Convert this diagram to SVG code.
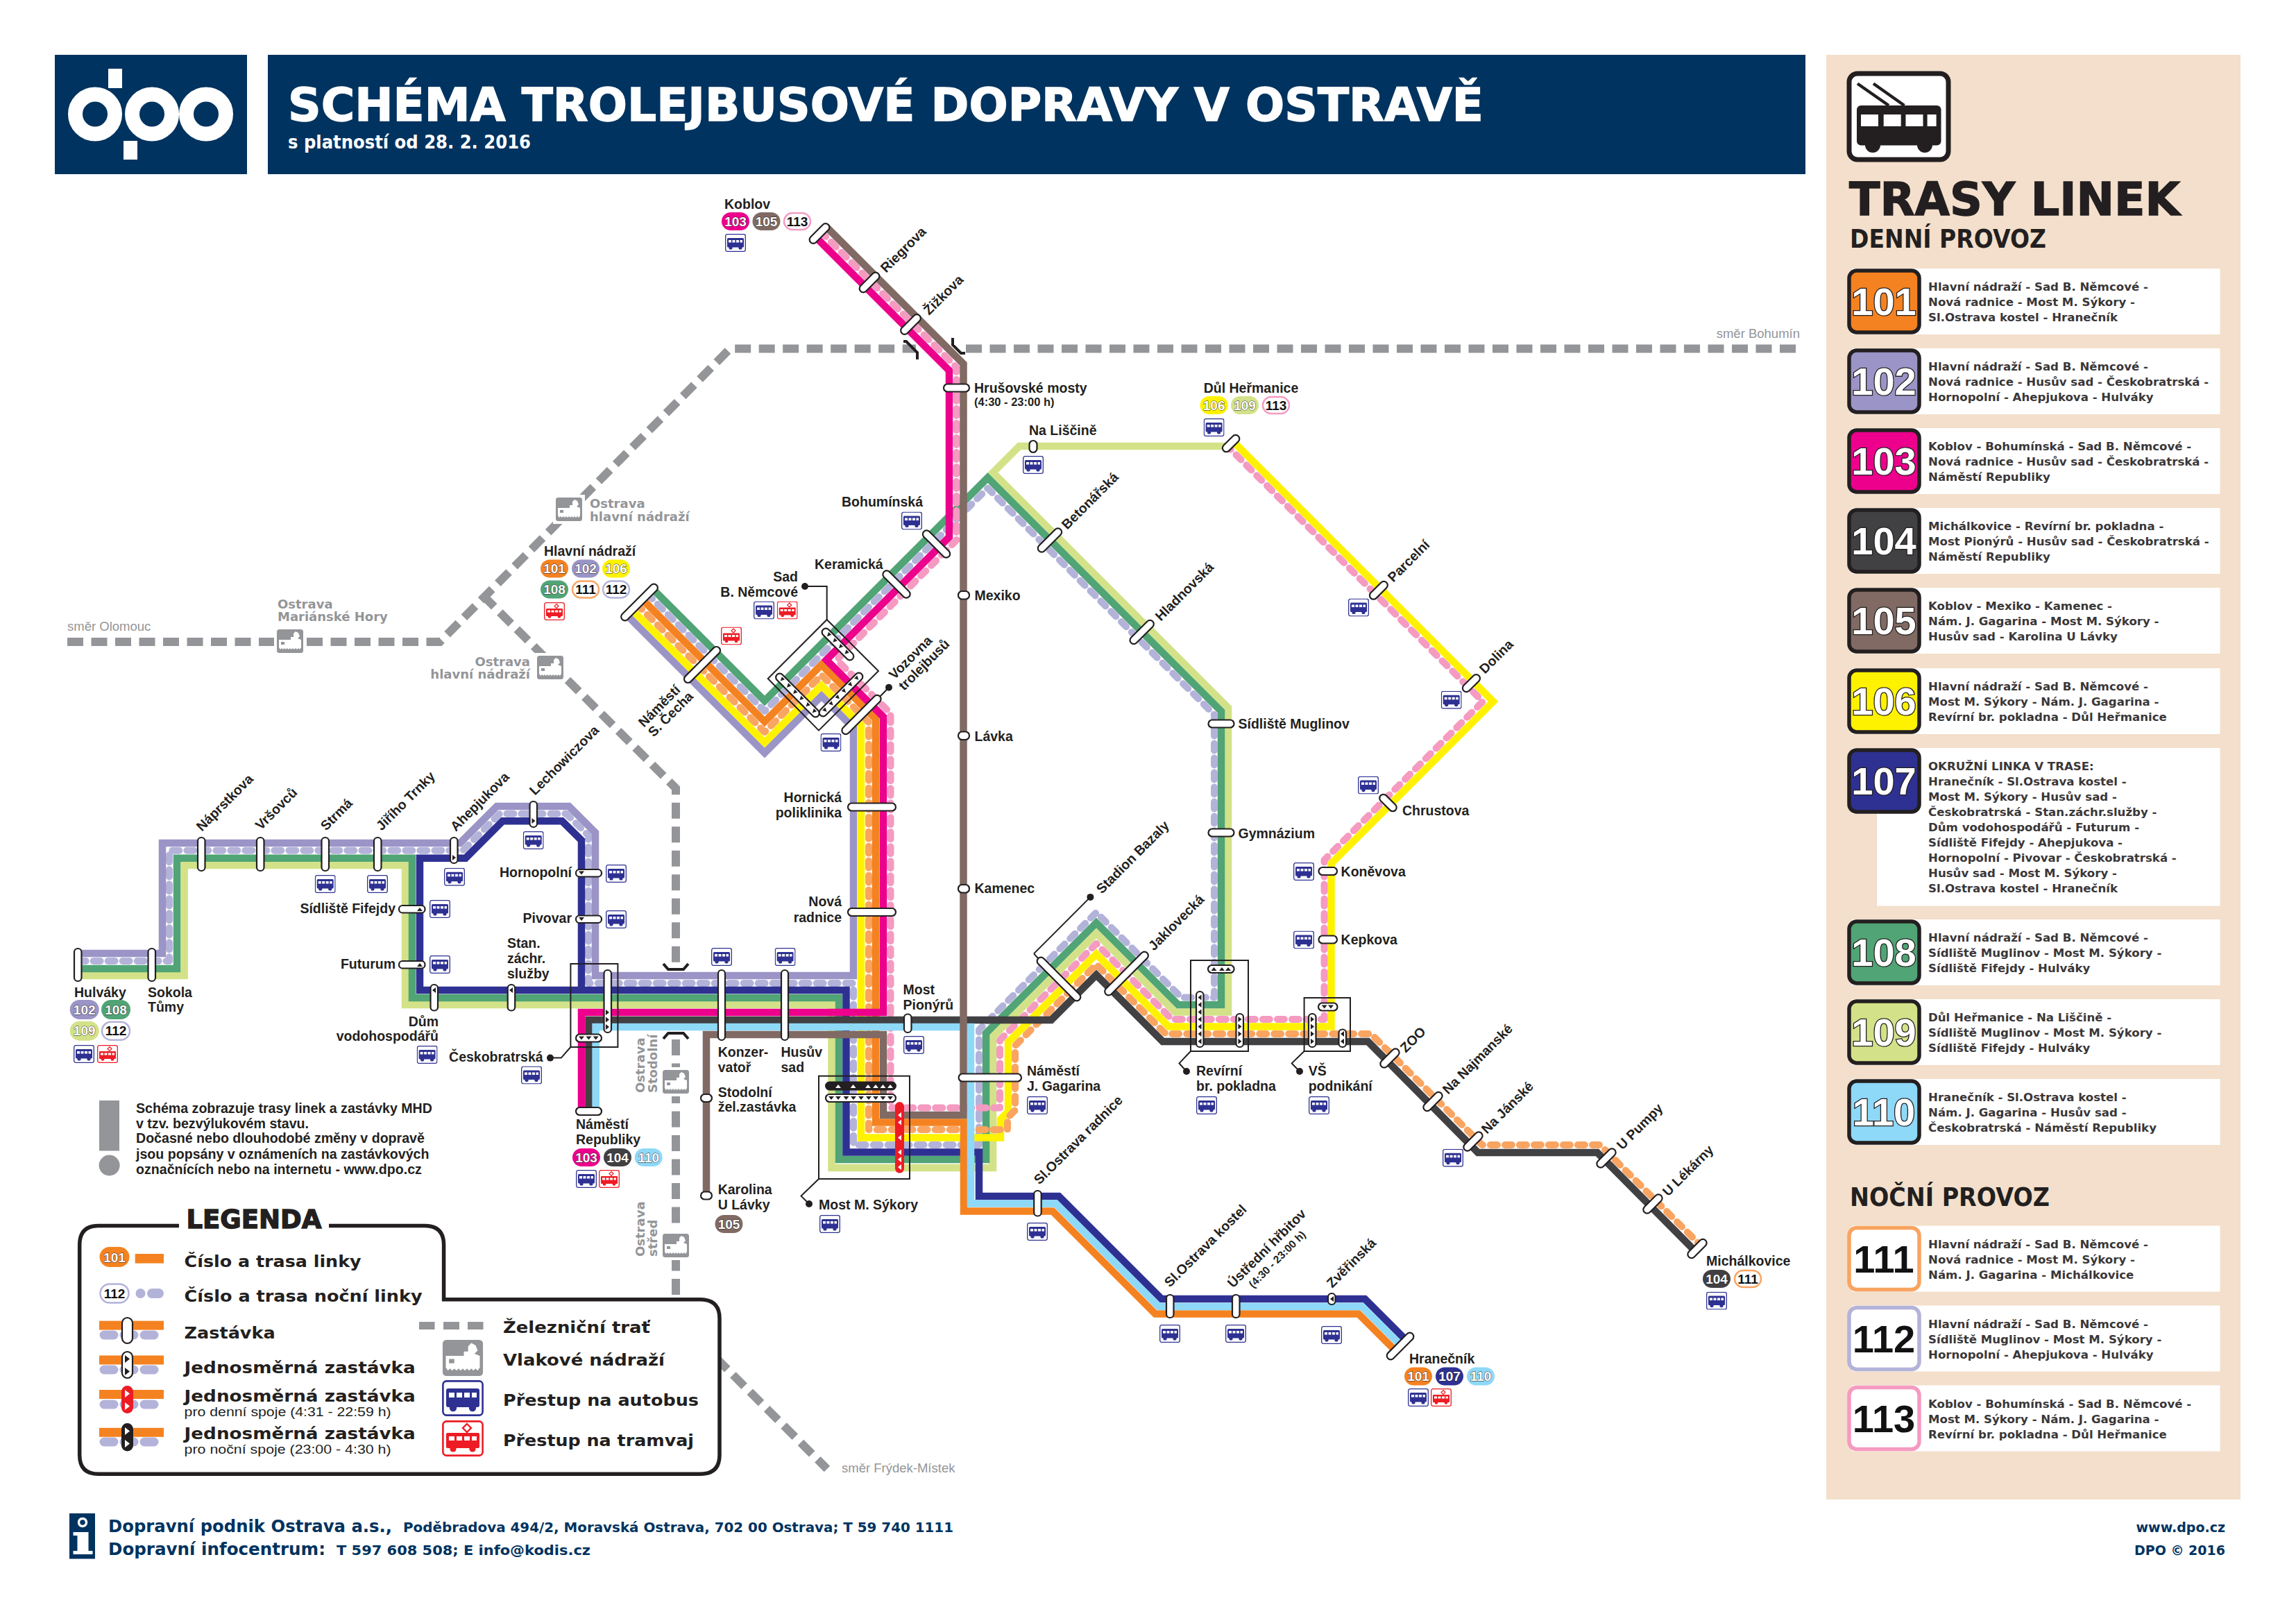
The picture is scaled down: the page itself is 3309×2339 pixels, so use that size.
<svg xmlns="http://www.w3.org/2000/svg" xmlns:xlink="http://www.w3.org/1999/xlink" width="3309" height="2339" viewBox="0 0 3309 2339">
<style>
text{font-family:"Liberation Sans",Arial,sans-serif;font-weight:700;fill:#231f20}
.l{font-size:19.5px}
.e{text-anchor:end}
.m{text-anchor:middle}
.w{font-family:"DejaVu Sans",sans-serif}
.hv{stroke-width:1.4px}
.r{fill:none;stroke-width:10.5;stroke-linejoin:miter}
.n{fill:none;stroke-width:10;stroke-linecap:round;stroke-linejoin:round;stroke-dasharray:10 11}
.rail{fill:none;stroke:#939598;stroke-width:12;stroke-dasharray:23 11.5}
.c{fill:#fff;stroke:#231f20;stroke-width:2.2}
.cb{fill:#231f20;stroke:#231f20;stroke-width:2}
.cr{fill:#ed1c24;stroke:#ed1c24;stroke-width:2}
.tk{fill:#231f20}
.tw{fill:#fff}
.box{fill:none;stroke:#231f20;stroke-width:2}
.dot{fill:#231f20}
.br{fill:none;stroke:#231f20;stroke-width:4}
.pt{font-size:19px;text-anchor:middle;fill:#fff;stroke:#231f20;stroke-width:.9px;paint-order:stroke}
.ptn{font-size:19px;text-anchor:middle;fill:#111}
.g{fill:#939598}
.gt{font-family:"DejaVu Sans",sans-serif;font-size:18px;fill:#939598}
.gs{font-size:18.5px;font-weight:400;fill:#939598}
.tt{font-family:"DejaVu Sans",sans-serif;font-size:16.6px;fill:#3a3738}
.num{font-size:56px;text-anchor:middle;fill:#fff;stroke:#231f20;stroke-width:2.6px;paint-order:stroke}
.numn{font-size:56px;text-anchor:middle;fill:#111}
.nb{stroke:#231f20;stroke-width:5.5}
.lg{font-family:"DejaVu Sans",sans-serif;font-size:23px}
.ls{font-size:17.5px;font-weight:400}
.no{font-size:19.6px}
.ft{font-family:"DejaVu Sans",sans-serif;fill:#00335f}
</style>
<defs>
<symbol id="bus" viewBox="0 0 30 26"><rect x=".7" y=".7" width="28.6" height="24.6" rx="2.5" fill="#fff" stroke="#2e3192" stroke-width="1.3"/><rect x="3" y="6" width="24" height="13.5" rx="1.5" fill="#2e3192"/><circle cx="8" cy="20" r="2.6" fill="#2e3192"/><circle cx="22" cy="20" r="2.6" fill="#2e3192"/><path fill="#fff" d="M5 9h4v3.5H5zM10.5 9h4v3.5h-4zM16 9h4v3.5h-4zM21.5 9h3.5v3.5h-3.5z"/></symbol>
<symbol id="tram" viewBox="0 0 30 26"><rect x=".7" y=".7" width="28.6" height="24.6" rx="2.5" fill="#fff" stroke="#ed1c24" stroke-width="1.3"/><rect x="3" y="9" width="24" height="11" rx="1" fill="#ed1c24"/><circle cx="8" cy="20.5" r="2.3" fill="#ed1c24"/><circle cx="22" cy="20.5" r="2.3" fill="#ed1c24"/><path fill="#fff" d="M5 11.5h4v3H5zM10.5 11.5h4v3h-4zM16 11.5h4v3h-4zM21.5 11.5h3.5v3h-3.5z"/><path fill="none" stroke="#ed1c24" stroke-width="1.2" d="M18 2.5l3 3-3 3-3-3z"/></symbol>
<symbol id="train" viewBox="0 0 38 34"><rect width="38" height="34" rx="3.5" fill="#939598"/><path fill="#fff" d="M3 15h17v-4h4v-5l3-3 4 2 2 5-3 3 5 2v11l-2 3-2-2-2 2-2-2-2 2-2-2-2 2-2-2-2 2-2-2-2 2-2-2-2 2-2-2-2 2-2-3z"/><rect x="6" y="18" width="5" height="4" fill="#939598"/></symbol>
</defs>

<g id="header">
<rect x="79" y="79" width="277" height="172" fill="#00335f"/>
<rect x="386" y="79" width="2216" height="172" fill="#00335f"/>
<g fill="none" stroke="#fff" stroke-width="21"><circle cx="137" cy="164.5" r="28.5"/><circle cx="219" cy="164.5" r="28.5"/><circle cx="297" cy="164.5" r="28.5"/></g>
<rect x="156" y="99" width="20" height="28" fill="#fff"/><rect x="178" y="203" width="20" height="27" fill="#fff"/>
<text class="w hv" x="415" y="173.5" font-size="66" textLength="1723" lengthAdjust="spacingAndGlyphs" style="fill:#fff;stroke:#fff">SCHÉMA TROLEJBUSOVÉ DOPRAVY V OSTRAVĚ</text>
<text class="w" x="415" y="214" font-size="26" textLength="350" lengthAdjust="spacingAndGlyphs" style="fill:#fff">s platností od 28. 2. 2016</text>
</g>

<g id="railway">
<path class="rail" d="M97 925H634L1052 502.5H1320"/>
<path class="rail" d="M1392 502.5H2598"/>
<path class="rail" d="M696 858L974 1136V1392"/>
<path class="rail" d="M974 1498V1899L1192 2117"/>
<path class="br" d="M1302 492h4l16 16v10M1373 487v10l12 12h6M956 1389l7 8h22l7-8M956 1497l7-8h22l7 8"/>
<rect x="395" y="903" width="46" height="42" fill="#fff"/><use href="#train" x="399" y="907" width="38" height="34"/>
<rect x="797" y="713" width="46" height="42" fill="#fff"/><use href="#train" x="801" y="717" width="38" height="34"/>
<rect x="770" y="941" width="46" height="42" fill="#fff"/><use href="#train" x="774" y="945" width="38" height="34"/>
<rect x="950" y="1538" width="46" height="42" fill="#fff"/><use href="#train" x="955" y="1542" width="38" height="34"/>
<rect x="950" y="1774" width="46" height="42" fill="#fff"/><use href="#train" x="955" y="1778" width="38" height="34"/>
<text class="gs" x="97" y="909">směr Olomouc</text>
<text class="gs e" x="2594" y="487">směr Bohumín</text>
<text class="gs" x="1213" y="2122">směr Frýdek-Místek</text>
<text class="gt" x="400" y="877">Ostrava</text><text class="gt" x="400" y="895">Mariánské Hory</text>
<text class="gt" x="850" y="732">Ostrava</text><text class="gt" x="850" y="750.5">hlavní nádraží</text>
<text class="gt e" x="764" y="960">Ostrava</text><text class="gt e" x="764" y="978">hlavní nádraží</text>
<text class="gt" transform="translate(929,1575) rotate(-90)">Ostrava</text><text class="gt" transform="translate(947,1575) rotate(-90)">Stodolní</text>
<text class="gt" transform="translate(929,1811) rotate(-90)">Ostrava</text><text class="gt" transform="translate(947,1811) rotate(-90)">střed</text>
</g>

<g id="connectors">
<path id="line-109" class="r" stroke="#d3e288" d="M1767 643H1469L1431 681L1770 1020V1458.6H1693.6L1580 1345L1431 1494V1683H1198.5V1448H584V1247H265.6V1406H112"/>
<path id="line-108" class="r" stroke="#50a475" d="M940.75 848.75L1102 1010L1423.5 688.5L1760 1025V1448H1698L1580 1330L1421 1489V1671H1209V1438H594V1236.7H255V1396H112"/>
<path id="line-112" class="n" stroke="#b3b3da" d="M933 856L1102 1025L1423.5 703.5L1750 1030V1437.5H1702.5L1580 1315L1411 1484V1650H1230V1417H848V1204L816 1172.7H720.3L667.2 1225.7H244V1385H112"/>
<path id="line-102" class="r" stroke="#9b94c6" d="M903 886L1102 1085L1184 1003L1230 1049V1406H858V1200L820 1162H716L663 1215H234V1374H112"/>
<path id="line-107" class="r" stroke="#2e3192" d="M2026.5 1931.5L1967 1872H1674L1526 1724H1411V1660.5H1219.5V1427H605V1236.7H671L724.4 1183.3H810L838 1211V1427"/>
<path id="line-106" class="r" stroke="#fff200" d="M910.7 878.7L1102 1070L1184 988L1241 1045V1639.5H1442V1613L1453 1602V1502L1580 1375L1684.6 1479.6H1918.5V1244.5L2152 1011L1779 638"/>
<path id="line-111" class="n" stroke="#f9a461" d="M918 871L1102 1055L1184 973L1252 1041V1628H1452V1611L1463 1600V1507L1580 1390L1680 1490H1976L2136 1650H2306L2450 1794"/>
<path id="line-101" class="r" stroke="#f58220" d="M925.7 863.7L1102 1040L1184 958L1262 1036V1617.6H1389V1745.5H1517L1665 1893.5H1958L2011.5 1947"/>
<path id="line-113" class="n" stroke="#f59ac1" d="M1183 334L1378.5 529.5V778.5L1206 951L1283.5 1028V1596.6H1441V1499L1580 1360L1689 1469H1908.5V1239.5L2137 1011L1773 647"/>
<path id="line-103" class="r" stroke="#ec008c" d="M1175.5 341.5L1368 534V774L1191 951L1273 1033V1459H838V1600"/>
<path id="line-104" class="r" stroke="#414042" d="M2442 1802L2302 1661H2130L1971.5 1501H1675.7L1580 1405L1515 1470H848.5V1600"/>
<path id="line-110" class="r" stroke="#8ed8f8" d="M2019 1939L1963 1883H1670L1521.5 1734.5H1399V1480H858.7V1600"/>
<path id="line-105" class="r" stroke="#806a63" d="M1190.5 326.5L1388.5 524.5V1607H1273V1491H1018V1723"/>
<path class="box" d="M1191.7 893V845H1160M1268 1004L1281 990.7M822.4 1509L808.7 1524.6H793M1180 1699L1154.6 1723.6L1166 1735M1490 1374.4L1571.4 1292.9M1490 1374.4L1497 1382M1716 1515L1699.5 1532.4L1710 1544M1879.6 1515L1861.7 1532.4L1873 1544"/>
</g>

<g id="st-koblov">
<rect class="c" x="1163" y="331" width="36" height="11" rx="5.5" transform="rotate(-45 1181 336.5)"/>
<text class="l" x="1044" y="301">Koblov</text>
<g transform="translate(1060,319)"><rect x="-20" y="-13" width="40" height="26" rx="13" fill="#ec008c"/><text class="pt" y="6.5">103</text></g>
<g transform="translate(1104.5,319)"><rect x="-20" y="-13" width="40" height="26" rx="13" fill="#806a63"/><text class="pt" y="6.5">105</text></g>
<g transform="translate(1149,319)"><rect x="-19" y="-12" width="38" height="24" rx="12" fill="#fff" stroke="#f59ac1" stroke-width="2.5"/><text class="ptn" y="6.5">113</text></g>
<use href="#bus" x="1045" y="337" width="30" height="26"/>
</g>
<g id="st-riegrova"><rect class="c" x="1235" y="401.5" width="36" height="11" rx="5.5" transform="rotate(-45 1253 407)"/><text class="l" transform="translate(1277,394) rotate(-45)">Riegrova</text></g>
<g id="st-zizkova"><rect class="c" x="1294.5" y="462" width="36" height="11" rx="5.5" transform="rotate(-45 1312.5 467.5)"/><text class="l" transform="translate(1339,455) rotate(-45)">Žižkova</text></g>
<g id="st-hrusovske"><rect class="c" x="1360" y="553.5" width="37" height="11" rx="5.5"/><text class="l" x="1404" y="566">Hrušovské mosty</text><text x="1404" y="585" font-size="16.5">(4:30 - 23:00 h)</text></g>
<g id="st-bohuminska"><rect class="c" x="1324" y="778.5" width="51" height="11" rx="5.5" transform="rotate(45 1349.5 784)"/><text class="l" x="1213" y="730">Bohumínská</text><use href="#bus" x="1299" y="737.5" width="30" height="26"/></g>
<g id="st-keramicka"><rect class="c" x="1266.5" y="836.5" width="51" height="11" rx="5.5" transform="rotate(45 1292 842)"/><text class="l" x="1174" y="820">Keramická</text></g>
<g id="st-mexiko"><rect class="c" x="1381" y="852" width="16" height="11.5" rx="5.5"/><text class="l" x="1404.5" y="865">Mexiko</text></g>
<g id="st-lavka"><rect class="c" x="1381" y="1054.5" width="16" height="11.5" rx="5.5"/><text class="l" x="1404.5" y="1068">Lávka</text></g>
<g id="st-kamenec"><rect class="c" x="1381" y="1275" width="16" height="11.5" rx="5.5"/><text class="l" x="1404.5" y="1287">Kamenec</text></g>

<g id="st-na-liscine"><rect class="c" x="1483.5" y="635" width="11" height="17" rx="5.5"/><text class="l" x="1483" y="626.5">Na Liščině</text><use href="#bus" x="1474" y="657" width="30" height="26"/></g>
<g id="st-dul-hermanice"><rect class="c" x="1759" y="633.3" width="30" height="11" rx="5.5" transform="rotate(-45 1774.3 638.8)"/><text class="l" x="1734.7" y="566">Důl Heřmanice</text>
<g transform="translate(1749.6,584)"><rect x="-20" y="-13" width="40" height="26" rx="13" fill="#fff200"/><text class="pt" y="6.5">106</text></g>
<g transform="translate(1794,584)"><rect x="-20" y="-13" width="40" height="26" rx="13" fill="#d3e288"/><text class="pt" y="6.5">109</text></g>
<g transform="translate(1839,584)"><rect x="-19" y="-12" width="38" height="24" rx="12" fill="#fff" stroke="#f59ac1" stroke-width="2.5"/><text class="ptn" y="6.5">113</text></g>
<use href="#bus" x="1734.6" y="603" width="30" height="26"/></g>
<g id="st-betonarska"><rect class="c" x="1491" y="773" width="44" height="11" rx="5.5" transform="rotate(-45 1513 778.5)"/><text class="l" transform="translate(1538,764) rotate(-45)">Betonářská</text></g>
<g id="st-hladnovska"><rect class="c" x="1623.7" y="905.5" width="44" height="11" rx="5.5" transform="rotate(-45 1645.7 911)"/><text class="l" transform="translate(1673,896) rotate(-45)">Hladnovská</text></g>
<g id="st-muglinov"><rect class="c" x="1741.5" y="1037.5" width="37" height="11" rx="5.5"/><text class="l" x="1784.5" y="1050">Sídliště Muglinov</text></g>
<g id="st-gymnazium"><rect class="c" x="1741.5" y="1194.5" width="37" height="11" rx="5.5"/><text class="l" x="1784.5" y="1207.5">Gymnázium</text></g>
<g id="st-parcelni"><rect class="c" x="1971" y="845.5" width="32" height="11" rx="5.5" transform="rotate(-45 1986.7 851)"/><text class="l" transform="translate(2008,840) rotate(-45)">Parcelní</text><use href="#bus" x="1943" y="862.5" width="30" height="26"/></g>
<g id="st-dolina"><rect class="c" x="2105" y="979.2" width="31" height="11" rx="5.5" transform="rotate(-45 2120.4 984.7)"/><text class="l" transform="translate(2140,972) rotate(-45)">Dolina</text><use href="#bus" x="2076.7" y="995.7" width="30" height="26"/></g>
<g id="st-chrustova"><rect class="c" x="1985.5" y="1151.5" width="30" height="11" rx="5.5" transform="rotate(45 2000.5 1157)"/><text class="l" x="2021" y="1174.5">Chrustova</text><use href="#bus" x="1957" y="1118.6" width="30" height="26"/></g>
<g id="st-konevova"><rect class="c" x="1900.5" y="1250" width="26.5" height="11" rx="5.5"/><text class="l" x="1932.6" y="1262.6">Koněvova</text><use href="#bus" x="1864" y="1243" width="30" height="26"/></g>
<g id="st-kepkova"><rect class="c" x="1900.5" y="1348.5" width="26.5" height="11" rx="5.5"/><text class="l" x="1932.6" y="1361">Kepkova</text><use href="#bus" x="1864" y="1341.5" width="30" height="26"/></g>

<g id="st-hlavni-nadrazi"><rect class="c" x="886.5" y="862.5" width="70" height="11" rx="5.5" transform="rotate(-45 921.5 868)"/><text class="l" x="784" y="801">Hlavní nádraží</text>
<g transform="translate(799,819.5)"><rect x="-20" y="-13" width="40" height="26" rx="13" fill="#f58220"/><text class="pt" y="6.5">101</text></g>
<g transform="translate(844,819.5)"><rect x="-20" y="-13" width="40" height="26" rx="13" fill="#9b94c6"/><text class="pt" y="6.5">102</text></g>
<g transform="translate(888,819.5)"><rect x="-20" y="-13" width="40" height="26" rx="13" fill="#fff200"/><text class="pt" y="6.5">106</text></g>
<g transform="translate(799,849.5)"><rect x="-20" y="-13" width="40" height="26" rx="13" fill="#50a475"/><text class="pt" y="6.5">108</text></g>
<g transform="translate(844,849.5)"><rect x="-19" y="-12" width="38" height="24" rx="12" fill="#fff" stroke="#f9a461" stroke-width="2.5"/><text class="ptn" y="6.5">111</text></g>
<g transform="translate(888,849.5)"><rect x="-19" y="-12" width="38" height="24" rx="12" fill="#fff" stroke="#b3b3da" stroke-width="2.5"/><text class="ptn" y="6.5">112</text></g>
<use href="#tram" x="784" y="868" width="30" height="26"/></g>
<g id="st-cecha"><rect class="c" x="977.5" y="952.5" width="69" height="11" rx="5.5" transform="rotate(-45 1012 958)"/><text class="l" transform="translate(928,1049) rotate(-45)">Náměstí</text><text class="l" transform="translate(942,1063) rotate(-45)">S. Čecha</text><use href="#tram" x="1039" y="903.5" width="30" height="26"/></g>
<g id="st-sad-nemcove">
<path class="box" d="M1191.7 893L1266 967L1180 1052.7L1106.7 978Z"/>
<g transform="translate(1207.5,928.5) rotate(45)"><rect class="c" x="-30" y="-5.5" width="60" height="11" rx="5.5"/><path class="tk" d="M-22-3l6 0-3 6zM-10-3l6 0-3 6zM2-3l6 0-3 6zM14-3l6 0-3 6z"/></g>
<g transform="translate(1149.5,1002) rotate(45)"><rect class="c" x="-42" y="-5.5" width="84" height="11" rx="5.5"/><path class="tk" d="M-35-3l6 0-3 6zM-22-3l6 0-3 6zM-9-3l6 0-3 6zM4-3l6 0-3 6zM17-3l6 0-3 6zM30-3l6 0-3 6z"/></g>
<g transform="translate(1212,1001) rotate(-45)"><rect class="c" x="-42" y="-5.5" width="84" height="11" rx="5.5"/><path class="tk" d="M-35-3l6 0-3 6zM-22-3l6 0-3 6zM-9-3l6 0-3 6zM4-3l6 0-3 6zM17-3l6 0-3 6zM30-3l6 0-3 6z"/></g>
<circle class="dot" cx="1160" cy="845" r="5"/>
<text class="l e" x="1150" y="838">Sad</text><text class="l e" x="1150" y="860">B. Němcové</text>
<use href="#bus" x="1086" y="866.5" width="30" height="26"/><use href="#tram" x="1119.7" y="866.5" width="30" height="26"/>
<use href="#bus" x="1182.5" y="1057" width="30" height="26"/>
</g>
<g id="st-vozovna"><rect class="c" x="1204" y="1024.5" width="75" height="11" rx="5.5" transform="rotate(-45 1241.5 1030)"/><circle class="dot" cx="1281" cy="990.7" r="5"/><text class="l" transform="translate(1289,980) rotate(-45)">Vozovna</text><text class="l" transform="translate(1303,996) rotate(-45)">trolejbusů</text></g>
<g id="st-hornicka"><rect class="c" x="1222" y="1157.5" width="69" height="11" rx="5.5"/><text class="l e" x="1213" y="1156">Hornická</text><text class="l e" x="1213" y="1178">poliklinika</text></g>
<g id="st-nova-radnice"><rect class="c" x="1222" y="1309" width="69" height="11" rx="5.5"/><text class="l e" x="1213" y="1306">Nová</text><text class="l e" x="1213" y="1328.7">radnice</text></g>

<g id="st-hulvaky"><rect class="c" x="107" y="1367" width="10.5" height="47" rx="5"/><text class="l" x="107" y="1436.7">Hulváky</text>
<g transform="translate(121.7,1455)"><rect x="-21" y="-14" width="42" height="28" rx="14" fill="#9b94c6"/><text class="pt" y="6.5">102</text></g>
<g transform="translate(167,1455)"><rect x="-21" y="-14" width="42" height="28" rx="14" fill="#50a475"/><text class="pt" y="6.5">108</text></g>
<g transform="translate(121.7,1485.7)"><rect x="-21" y="-14" width="42" height="28" rx="14" fill="#d3e288"/><text class="pt" y="6.5">109</text></g>
<g transform="translate(167,1485.7)"><rect x="-20" y="-13" width="40" height="26" rx="13" fill="#fff" stroke="#b3b3da" stroke-width="2.5"/><text class="ptn" y="6.5">112</text></g>
<use href="#bus" x="106" y="1506" width="30" height="26"/><use href="#tram" x="140" y="1506" width="30" height="26"/></g>
<g id="st-sokola"><rect class="c" x="213.5" y="1367" width="10.5" height="47" rx="5"/><text class="l" x="213" y="1436.7">Sokola</text><text class="l" x="213" y="1458">Tůmy</text></g>
<g id="st-naprstkova"><rect class="c" x="285" y="1207" width="10.5" height="48" rx="5"/><text class="l" transform="translate(291,1199) rotate(-45)">Náprstkova</text></g>
<g id="st-vrsovcu"><rect class="c" x="370" y="1207" width="10.5" height="48" rx="5"/><text class="l" transform="translate(376,1197) rotate(-45)">Vršovců</text></g>
<g id="st-strma"><rect class="c" x="463.5" y="1207" width="10.5" height="48" rx="5"/><text class="l" transform="translate(470,1198) rotate(-45)">Strmá</text><use href="#bus" x="453.7" y="1261" width="30" height="26"/></g>
<g id="st-trnky"><rect class="c" x="539" y="1207" width="10.5" height="48" rx="5"/><text class="l" transform="translate(550,1198) rotate(-45)">Jiřího Trnky</text><use href="#bus" x="529" y="1261" width="30" height="26"/></g>
<g id="st-ahepjukova"><rect class="c" x="649" y="1207" width="10.5" height="37" rx="5"/><path class="tk" d="M652 1232l5 4-5 4z"/><text class="l" transform="translate(657,1199) rotate(-45)">Ahepjukova</text><use href="#bus" x="640" y="1250.7" width="30" height="26"/></g>
<g id="st-lechowiczova"><rect class="c" x="763.5" y="1155" width="10.5" height="37" rx="5"/><path class="tk" d="M766.5 1179l5 4-5 4z"/><text class="l" transform="translate(771,1147) rotate(-45)">Lechowiczova</text><use href="#bus" x="753.7" y="1198" width="30" height="26"/></g>
<g id="st-fifejdy"><rect class="c" x="575" y="1305" width="37.5" height="10.5" rx="5"/><path class="tk" d="M601 1313l4-5 4 5z"/><text class="l e" x="570" y="1315.7">Sídliště Fifejdy</text><use href="#bus" x="619" y="1297" width="30" height="26"/></g>
<g id="st-futurum"><rect class="c" x="575" y="1385" width="37.5" height="10.5" rx="5"/><path class="tk" d="M601 1393l4-5 4 5z"/><text class="l e" x="570" y="1395.7">Futurum</text><use href="#bus" x="619" y="1377" width="30" height="26"/></g>
<g id="st-hornopolni"><rect class="c" x="830" y="1253" width="37" height="10.5" rx="5"/><path class="tk" d="M834 1255.5l8 0-4 5z"/><text class="l e" x="824" y="1264">Hornopolní</text><use href="#bus" x="873" y="1246" width="30" height="26"/></g>
<g id="st-pivovar"><rect class="c" x="830" y="1319.5" width="37" height="10.5" rx="5"/><path class="tk" d="M834 1322l8 0-4 5z"/><text class="l e" x="824" y="1330">Pivovar</text><use href="#bus" x="873" y="1312" width="30" height="26"/></g>
<g id="st-vodohospodaru"><rect class="c" x="620.5" y="1419" width="10.5" height="37.5" rx="5"/><path class="tk" d="M628 1423l-5 4 5 4z"/><text class="l e" x="632" y="1478.6">Dům</text><text class="l e" x="632" y="1500">vodohospodářů</text><use href="#bus" x="600.6" y="1507" width="30" height="26"/></g>
<g id="st-zachr-sluzby"><rect class="c" x="731.7" y="1419" width="10.5" height="37.5" rx="5"/><path class="tk" d="M739 1423l-5 4 5 4z"/><text class="l" x="731" y="1366">Stan.</text><text class="l" x="731" y="1388">záchr.</text><text class="l" x="731" y="1410">služby</text></g>
<g id="st-ceskobratrska"><rect class="box" x="822.4" y="1389" width="68" height="120"/>
<rect class="c" x="870.5" y="1398" width="10.5" height="90" rx="5"/><path class="tk" d="M873 1455l5 4-5 4zM873 1465.5l5 4-5 4zM873 1476l5 4-5 4z"/>
<rect class="c" x="830" y="1490.5" width="37" height="11" rx="5.5"/><path class="tk" d="M834 1493.5l8 0-4 5zM844.5 1493.5l8 0-4 5zM854.7 1493.5l8 0-4 5z"/>
<circle class="dot" cx="793" cy="1524.6" r="5"/><text class="l e" x="782.6" y="1530">Českobratrská</text><use href="#bus" x="751" y="1536.5" width="30" height="26"/></g>
<g id="st-namesti-republiky"><rect class="c" x="830" y="1596" width="37" height="11" rx="5.5"/><text class="l" x="830" y="1627">Náměstí</text><text class="l" x="830" y="1649.4">Republiky</text>
<g transform="translate(845,1668)"><rect x="-20" y="-13" width="40" height="26" rx="13" fill="#ec008c"/><text class="pt" y="6.5">103</text></g>
<g transform="translate(890,1668)"><rect x="-20" y="-13" width="40" height="26" rx="13" fill="#414042"/><text class="pt" y="6.5">104</text></g>
<g transform="translate(934.7,1668)"><rect x="-20" y="-13" width="40" height="26" rx="13" fill="#8ed8f8"/><text class="pt" y="6.5">110</text></g>
<use href="#bus" x="830" y="1686" width="30" height="26"/><use href="#tram" x="863" y="1686" width="30" height="26"/></g>
<g id="st-konzervator"><rect class="c" x="1035" y="1398" width="10" height="101" rx="5"/><text class="l" x="1034.7" y="1523">Konzer-</text><text class="l" x="1034.7" y="1545">vatoř</text><use href="#bus" x="1025" y="1366" width="30" height="26"/></g>
<g id="st-husuv-sad"><rect class="c" x="1126" y="1398" width="10" height="101" rx="5"/><text class="l" x="1125.5" y="1523">Husův</text><text class="l" x="1125.5" y="1545">sad</text><use href="#bus" x="1116.6" y="1366" width="30" height="26"/></g>
<g id="st-stodolni"><rect class="c" x="1010" y="1577" width="16" height="11" rx="5.5"/><text class="l" x="1034.7" y="1580.5">Stodolní</text><text class="l" x="1034.7" y="1602">žel.zastávka</text></g>
<g id="st-karolina"><rect class="c" x="1010" y="1717.5" width="16" height="11" rx="5.5"/><text class="l" x="1034.7" y="1721">Karolina</text><text class="l" x="1034.7" y="1743">U Lávky</text>
<g transform="translate(1050.5,1764)"><rect x="-20" y="-13" width="40" height="26" rx="13" fill="#806a63"/><text class="pt" y="6.5">105</text></g></g>
<g id="st-most-sykory"><rect class="box" x="1180" y="1550.7" width="131" height="148.3"/>
<rect class="cb" x="1190" y="1559.5" width="101" height="11" rx="5.5"/><path class="tw" d="M1204 1568l4-5 4 5zM1225.6 1568l4-5 4 5zM1247 1568l4-5 4 5zM1258 1568l4-5 4 5zM1268.5 1568l4-5 4 5zM1279 1568l4-5 4 5z"/>
<rect class="c" x="1190" y="1577" width="101" height="11" rx="5.5"/><path class="tk" d="M1194 1580l8 0-4 5zM1204 1580l8 0-4 5zM1215.5 1580l8 0-4 5zM1226 1580l8 0-4 5zM1237 1580l8 0-4 5zM1248 1580l8 0-4 5zM1258 1580l8 0-4 5zM1268.5 1580l8 0-4 5zM1279 1580l8 0-4 5z"/>
<rect class="cr" x="1291" y="1589" width="11" height="100.6" rx="5.5"/><path class="tw" d="M1299 1603l-5 4 5 4zM1299 1613.6l-5 4 5 4zM1299 1635.5l-5 4 5 4zM1299 1656.5l-5 4 5 4zM1299 1667l-5 4 5 4zM1299 1678l-5 4 5 4z"/>
<circle class="dot" cx="1166" cy="1735" r="5"/><text class="l" x="1180" y="1742.8">Most M. Sýkory</text><use href="#bus" x="1181" y="1751" width="30" height="26"/></g>
<g id="st-most-pionyru"><rect class="c" x="1303" y="1461.5" width="10.5" height="26.5" rx="5"/><text class="l" x="1301.5" y="1432.8">Most</text><text class="l" x="1301.5" y="1455">Pionýrů</text><use href="#bus" x="1302" y="1493" width="30" height="26"/></g>
<g id="st-gagarina"><rect class="c" x="1381.6" y="1547.5" width="90.4" height="11" rx="5.5"/><text class="l" x="1480" y="1549.7">Náměstí</text><text class="l" x="1480" y="1572">J. Gagarina</text><use href="#bus" x="1480" y="1580" width="30" height="26"/></g>
<g id="st-stadion-bazaly"><rect class="c" x="1484" y="1405.5" width="84" height="11" rx="5.5" transform="rotate(45 1526 1411)"/><circle class="dot" cx="1571.4" cy="1292.9" r="5"/><text class="l" transform="translate(1588,1289) rotate(-45)">Stadion Bazaly</text></g>
<g id="st-jaklovecka"><rect class="c" x="1581.5" y="1397.5" width="84" height="11" rx="5.5" transform="rotate(-45 1623.5 1403)"/><text class="l" transform="translate(1663,1371) rotate(-45)">Jaklovecká</text></g>
<g id="st-revirni"><rect class="box" x="1716" y="1384" width="83" height="131"/>
<rect class="c" x="1741" y="1391" width="37.6" height="11" rx="5.5"/><path class="tk" d="M1745.5 1399l4-5 4 5zM1757 1399l4-5 4 5zM1766 1399l4-5 4 5z"/>
<rect class="c" x="1724" y="1429" width="10.5" height="80" rx="5"/><path class="tk" d="M1731.5 1433.5l-5 4 5 4zM1731.5 1444l-5 4 5 4zM1731.5 1454.6l-5 4 5 4zM1731.5 1465l-5 4 5 4zM1731.5 1475.6l-5 4 5 4zM1731.5 1486l-5 4 5 4zM1731.5 1496.7l-5 4 5 4z"/>
<rect class="c" x="1781.5" y="1461" width="10.5" height="48" rx="5"/><path class="tk" d="M1784.5 1465l5 4-5 4zM1784.5 1475.6l5 4-5 4zM1784.5 1486l5 4-5 4zM1784.5 1496.7l5 4-5 4z"/>
<circle class="dot" cx="1710" cy="1544" r="5"/><text class="l" x="1724" y="1549.7">Revírní</text><text class="l" x="1724" y="1572">br. pokladna</text><use href="#bus" x="1724" y="1580" width="30" height="26"/></g>
<g id="st-vs-podnikani"><rect class="box" x="1879.6" y="1438" width="66.4" height="77"/>
<rect class="c" x="1900" y="1445.5" width="27.5" height="11" rx="5.5"/><path class="tk" d="M1904.7 1448.5l8 0-4 5zM1914 1448.5l8 0-4 5z"/>
<rect class="c" x="1886" y="1461" width="10.5" height="48" rx="5"/><path class="tk" d="M1889 1465l5 4-5 4zM1889 1475.6l5 4-5 4zM1889 1486l5 4-5 4zM1889 1496.7l5 4-5 4z"/>
<rect class="c" x="1929.5" y="1483.5" width="10.5" height="25.5" rx="5"/><path class="tk" d="M1937 1486l-5 4 5 4zM1937 1496.7l-5 4 5 4z"/>
<circle class="dot" cx="1873" cy="1544" r="5"/><text class="l" x="1885.7" y="1549.7">VŠ</text><text class="l" x="1885.7" y="1572">podnikání</text><use href="#bus" x="1886" y="1580" width="30" height="26"/></g>
<g id="st-zoo"><rect class="c" x="1986" y="1519.5" width="34" height="11" rx="5.5" transform="rotate(-45 2003 1525)"/><text class="l" transform="translate(2026,1518) rotate(-45)">ZOO</text></g>
<g id="st-najmanske"><rect class="c" x="2048" y="1582" width="34" height="11" rx="5.5" transform="rotate(-45 2065 1587.5)"/><text class="l" transform="translate(2087,1578) rotate(-45)">Na Najmanské</text></g>
<g id="st-janske"><rect class="c" x="2106" y="1639.5" width="34" height="11" rx="5.5" transform="rotate(-45 2123 1645)"/><text class="l" transform="translate(2143,1635) rotate(-45)">Na Jánské</text><use href="#bus" x="2079" y="1655.7" width="30" height="26"/></g>
<g id="st-u-pumpy"><rect class="c" x="2298" y="1663.5" width="34" height="11" rx="5.5" transform="rotate(-45 2315 1669)"/><text class="l" transform="translate(2338,1658) rotate(-45)">U Pumpy</text></g>
<g id="st-u-lekarny"><rect class="c" x="2365" y="1729.5" width="34" height="11" rx="5.5" transform="rotate(-45 2382 1735)"/><text class="l" transform="translate(2404,1725) rotate(-45)">U Lékárny</text></g>
<g id="st-michalkovice"><rect class="c" x="2429" y="1794" width="34" height="11" rx="5.5" transform="rotate(-45 2446 1799.5)"/><text class="l" x="2459" y="1824">Michálkovice</text>
<g transform="translate(2474,1843)"><rect x="-20" y="-13" width="40" height="26" rx="13" fill="#414042"/><text class="pt" y="6.5">104</text></g>
<g transform="translate(2519,1843)"><rect x="-19" y="-12" width="38" height="24" rx="12" fill="#fff" stroke="#f9a461" stroke-width="2.5"/><text class="ptn" y="6.5">111</text></g>
<use href="#bus" x="2459" y="1861.6" width="30" height="26"/></g>
<g id="st-radnice"><rect class="c" x="1490.2" y="1716" width="10.5" height="36.5" rx="5"/><text class="l" transform="translate(1498,1708) rotate(-45)">Sl.Ostrava radnice</text><use href="#bus" x="1480" y="1762" width="30" height="26"/></g>
<g id="st-kostel"><rect class="c" x="1681" y="1866" width="10.5" height="33" rx="5"/><text class="l" transform="translate(1686,1856) rotate(-45)">Sl.Ostrava kostel</text><use href="#bus" x="1671" y="1909" width="30" height="26"/></g>
<g id="st-hrbitov"><rect class="c" x="1776" y="1866" width="10.5" height="33" rx="5"/><text class="l" transform="translate(1777,1857) rotate(-45)">Ústřední hřbitov</text><text font-size="15.5" transform="translate(1806,1857) rotate(-45)">(4:30 - 23:00 h)</text><use href="#bus" x="1766" y="1909" width="30" height="26"/></g>
<g id="st-zverinska"><rect class="c" x="1914" y="1864" width="10.5" height="16" rx="5"/><path class="tk" d="M1922 1868l-5 4 5 4z"/><text class="l" transform="translate(1920,1857) rotate(-45)">Zvěřinská</text><use href="#bus" x="1904" y="1911" width="30" height="26"/></g>
<g id="st-hranecnik"><rect class="c" x="1993" y="1934.5" width="50" height="11" rx="5.5" transform="rotate(-45 2018 1940)"/><text class="l" x="2031" y="1964.7">Hranečník</text>
<g transform="translate(2044,1983.5)"><rect x="-20" y="-13" width="40" height="26" rx="13" fill="#f58220"/><text class="pt" y="6.5">101</text></g>
<g transform="translate(2089,1983.5)"><rect x="-20" y="-13" width="40" height="26" rx="13" fill="#2e3192"/><text class="pt" y="6.5">107</text></g>
<g transform="translate(2134,1983.5)"><rect x="-20" y="-13" width="40" height="26" rx="13" fill="#8ed8f8"/><text class="pt" y="6.5">110</text></g>
<use href="#bus" x="2029" y="2001" width="30" height="26"/><use href="#tram" x="2062" y="2001" width="30" height="26"/></g>

<g id="notice">
<rect x="143" y="1586" width="29" height="72.5" class="g"/><circle cx="157.6" cy="1679.5" r="15" class="g"/>
<text class="no" x="196" y="1603.6">Schéma zobrazuje trasy linek a zastávky MHD</text><text class="no" x="196" y="1626">v tzv. bezvýlukovém stavu.</text><text class="no" x="196" y="1647">Dočasné nebo dlouhodobé změny v dopravě</text><text class="no" x="196" y="1669.6">jsou popsány v oznámeních na zastávkových</text><text class="no" x="196" y="1692">označnících nebo na internetu - www.dpo.cz</text>
</g>

<g id="legend">
<path fill="#fff" stroke="#231f20" stroke-width="5.5" d="M474 1766.4H612Q639.6 1766.4 639.6 1794V1872.8H1009Q1037 1872.8 1037 1900V2097Q1037 2124.3 1009 2124.3H142Q114.7 2124.3 114.7 2097V1794Q114.7 1766.4 142 1766.4H258"/>
<text class="w hv" x="268.4" y="1770.4" font-size="37" textLength="195" lengthAdjust="spacingAndGlyphs" style="stroke:#231f20">LEGENDA</text>
<g transform="translate(165,1811.5)"><rect x="-21.5" y="-14.5" width="43" height="29" rx="14.5" fill="#f58220"/><text class="pt" y="7">101</text></g>
<rect x="194.7" y="1807" width="41.3" height="13.6" fill="#f58220"/>
<g transform="translate(165,1864)"><rect x="-20.5" y="-13.5" width="41" height="27" rx="13.5" fill="#fff" stroke="#b3b3da" stroke-width="2.5"/><text class="ptn" y="7">112</text></g>
<circle cx="202.5" cy="1864" r="7" fill="#b3b3da"/><rect x="212" y="1857" width="24" height="14" rx="7" fill="#b3b3da"/>
<text class="lg" x="265.6" y="1825.7" textLength="255" lengthAdjust="spacingAndGlyphs">Číslo a trasa linky</text>
<text class="lg" x="265.6" y="1876" textLength="343" lengthAdjust="spacingAndGlyphs">Číslo a trasa noční linky</text>
<text class="lg" x="265.6" y="1929" textLength="131" lengthAdjust="spacingAndGlyphs">Zastávka</text>
<text class="lg" x="265.6" y="1979" textLength="333" lengthAdjust="spacingAndGlyphs">Jednosměrná zastávka</text>
<text class="lg" x="265.6" y="2019.5" textLength="333" lengthAdjust="spacingAndGlyphs">Jednosměrná zastávka</text>
<text class="ls" x="265.6" y="2041" textLength="298" lengthAdjust="spacingAndGlyphs">pro denní spoje (4:31 - 22:59 h)</text>
<text class="lg" x="265.6" y="2073.7" textLength="333" lengthAdjust="spacingAndGlyphs">Jednosměrná zastávka</text>
<text class="ls" x="265.6" y="2094.6" textLength="298" lengthAdjust="spacingAndGlyphs">pro noční spoje (23:00 - 4:30 h)</text>
<g fill="#f58220"><rect x="143" y="1903.6" width="93" height="13"/><rect x="143" y="1953.5" width="93" height="13"/><rect x="143" y="2003" width="93" height="13"/><rect x="143" y="2057.8" width="93" height="13"/></g>
<g fill="none" stroke="#b3b3da" stroke-width="13" stroke-linecap="round" stroke-dasharray="14 15"><path d="M150 1924H236"/><path d="M150 1974H236"/><path d="M150 2024H236"/><path d="M150 2078H236"/></g>
<rect class="c" x="176" y="1899" width="15" height="37" rx="7.5"/>
<rect class="c" x="176" y="1948" width="15" height="38" rx="7.5"/><path class="tk" d="M180 1953l7 5.5-7 5.5zM180 1971l7 5.5-7 5.5z"/>
<rect class="cr" x="176" y="1998" width="15" height="38" rx="7.5"/><path class="tw" d="M180 2003l7 5.5-7 5.5zM180 2021l7 5.5-7 5.5z"/>
<rect class="cb" x="176" y="2052" width="15" height="38.5" rx="7.5"/><path class="tw" d="M180 2057l7 5.5-7 5.5zM180 2075l7 5.5-7 5.5z"/>
<path fill="#939598" d="M604 1905h22.5v11H604zM639 1905h23v11h-23zM674 1905h22.5v11H674z"/>
<use href="#train" x="637" y="1931" width="60" height="52"/><use href="#bus" x="637" y="1989" width="60" height="52"/><use href="#tram" x="637" y="2047" width="60" height="52"/>
<text class="lg" x="725" y="1921.4" textLength="212" lengthAdjust="spacingAndGlyphs">Železniční trať</text>
<text class="lg" x="725" y="1967.7" textLength="233" lengthAdjust="spacingAndGlyphs">Vlakové nádraží</text>
<text class="lg" x="725" y="2026" textLength="282" lengthAdjust="spacingAndGlyphs">Přestup na autobus</text>
<text class="lg" x="725" y="2083.5" textLength="275" lengthAdjust="spacingAndGlyphs">Přestup na tramvaj</text>
</g>

<g id="footer">
<rect x="100" y="2181" width="37" height="65.5" fill="#00335f"/><circle cx="119" cy="2194" r="5.5" fill="none" stroke="#fff" stroke-width="3.5"/>
<path fill="#fff" d="M105.5 2208h22v27h6v5h-28v-5h6v-22h-6z"/>
<text class="ft" x="156" y="2208" font-size="25" textLength="409" lengthAdjust="spacingAndGlyphs" style="fill:#00335f">Dopravní podnik Ostrava a.s.,</text>
<text class="ft" x="581" y="2208" font-size="19" textLength="793" lengthAdjust="spacingAndGlyphs" style="fill:#00335f">Poděbradova 494/2, Moravská Ostrava, 702 00 Ostrava;  T  59 740 1111</text>
<text class="ft" x="156" y="2241" font-size="25" textLength="313" lengthAdjust="spacingAndGlyphs" style="fill:#00335f">Dopravní infocentrum:</text>
<text class="ft" x="485" y="2241" font-size="19" textLength="366" lengthAdjust="spacingAndGlyphs" style="fill:#00335f">T 597 608 508;  E info@kodis.cz</text>
<text class="ft e" x="3207" y="2208" font-size="19" style="fill:#00335f">www.dpo.cz</text>
<text class="ft e" x="3207" y="2241" font-size="19" style="fill:#00335f">DPO © 2016</text>
</g>

<g id="routes-panel">
<rect x="2632" y="79" width="597" height="2082" fill="#f3dfcb"/>
<rect x="2665" y="106" width="143" height="124" rx="12" fill="#fff" stroke="#231f20" stroke-width="7"/>
<path d="M2677 120.5L2722 152M2700 120.5L2744.5 152" stroke="#231f20" stroke-width="4.5" fill="none"/>
<rect x="2676" y="152" width="121.5" height="57.5" rx="6" fill="#231f20"/><circle cx="2699" cy="209" r="11" fill="#231f20"/><circle cx="2774" cy="209" r="11" fill="#231f20"/>
<path fill="#fff" d="M2682 165h25v17h-25zM2714.7 165h25v17h-25zM2746.5 165h25v17h-25zM2777.6 165h13v17h-13z"/>
<text class="w hv" x="2665" y="310" font-size="66" textLength="477" lengthAdjust="spacingAndGlyphs" style="stroke:#231f20">TRASY LINEK</text>
<text class="w" x="2666" y="357" font-size="38" textLength="283" lengthAdjust="spacingAndGlyphs">DENNÍ PROVOZ</text>
<text class="w" x="2666" y="1738" font-size="38" textLength="288" lengthAdjust="spacingAndGlyphs">NOČNÍ PROVOZ</text>

<g id="route-101"><rect x="2669" y="387" width="530.6" height="95" fill="#fff"/><rect class="nb" x="2665" y="390" width="101" height="89" rx="11" fill="#f58220"/><text class="num" x="2715" y="454">101</text><text class="tt" x="2779" y="419">Hlavní nádraží - Sad B. Němcové -</text><text class="tt" x="2779" y="441">Nová radnice - Most M. Sýkory -</text><text class="tt" x="2779" y="463">Sl.Ostrava kostel - Hranečník</text></g>
<g id="route-102"><rect x="2669" y="502" width="530.6" height="95" fill="#fff"/><rect class="nb" x="2665" y="505" width="101" height="89" rx="11" fill="#9b94c6"/><text class="num" x="2715" y="569">102</text><text class="tt" x="2779" y="534">Hlavní nádraží - Sad B. Němcové -</text><text class="tt" x="2779" y="556">Nová radnice - Husův sad - Českobratrská -</text><text class="tt" x="2779" y="578">Hornopolní - Ahepjukova - Hulváky</text></g>
<g id="route-103"><rect x="2669" y="617" width="530.6" height="95" fill="#fff"/><rect class="nb" x="2665" y="620" width="101" height="89" rx="11" fill="#ec008c"/><text class="num" x="2715" y="684">103</text><text class="tt" x="2779" y="649">Koblov - Bohumínská - Sad B. Němcové -</text><text class="tt" x="2779" y="671">Nová radnice - Husův sad - Českobratrská -</text><text class="tt" x="2779" y="693">Náměstí Republiky</text></g>
<g id="route-104"><rect x="2669" y="732" width="530.6" height="95" fill="#fff"/><rect class="nb" x="2665" y="735" width="101" height="89" rx="11" fill="#414042"/><text class="num" x="2715" y="799">104</text><text class="tt" x="2779" y="764">Michálkovice - Revírní br. pokladna -</text><text class="tt" x="2779" y="786">Most Pionýrů - Husův sad - Českobratrská -</text><text class="tt" x="2779" y="808">Náměstí Republiky</text></g>
<g id="route-105"><rect x="2669" y="847" width="530.6" height="95" fill="#fff"/><rect class="nb" x="2665" y="850" width="101" height="89" rx="11" fill="#806a63"/><text class="num" x="2715" y="914">105</text><text class="tt" x="2779" y="879">Koblov - Mexiko - Kamenec -</text><text class="tt" x="2779" y="901">Nám. J. Gagarina - Most M. Sýkory -</text><text class="tt" x="2779" y="923">Husův sad - Karolina U Lávky</text></g>
<g id="route-106"><rect x="2669" y="963" width="530.6" height="95" fill="#fff"/><rect class="nb" x="2665" y="966" width="101" height="89" rx="11" fill="#fff200"/><text class="num" x="2715" y="1030">106</text><text class="tt" x="2779" y="995">Hlavní nádraží - Sad B. Němcové -</text><text class="tt" x="2779" y="1017">Most M. Sýkory - Nám. J. Gagarina -</text><text class="tt" x="2779" y="1039">Revírní br. pokladna - Důl Heřmanice</text></g>
<g id="route-107"><rect x="2705" y="1078" width="494.6" height="227.6" fill="#fff"/><rect x="2669" y="1078" width="60" height="95" fill="#fff"/><rect class="nb" x="2665" y="1081" width="101" height="89" rx="11" fill="#2e3192"/><text class="num" x="2715" y="1145">107</text>
<text class="tt" x="2779" y="1110">OKRUŽNÍ LINKA V TRASE:</text><text class="tt" x="2779" y="1132">Hranečník - Sl.Ostrava kostel -</text><text class="tt" x="2779" y="1154">Most M. Sýkory - Husův sad -</text><text class="tt" x="2779" y="1176">Českobratrská - Stan.záchr.služby -</text><text class="tt" x="2779" y="1198">Dům vodohospodářů - Futurum -</text><text class="tt" x="2779" y="1220">Sídliště Fifejdy - Ahepjukova -</text><text class="tt" x="2779" y="1242">Hornopolní - Pivovar - Českobratrská -</text><text class="tt" x="2779" y="1264">Husův sad - Most M. Sýkory -</text><text class="tt" x="2779" y="1286">Sl.Ostrava kostel - Hranečník</text></g>
<g id="route-108"><rect x="2669" y="1325" width="530.6" height="95" fill="#fff"/><rect class="nb" x="2665" y="1328" width="101" height="89" rx="11" fill="#50a475"/><text class="num" x="2715" y="1392">108</text><text class="tt" x="2779" y="1357">Hlavní nádraží - Sad B. Němcové -</text><text class="tt" x="2779" y="1379">Sídliště Muglinov - Most M. Sýkory -</text><text class="tt" x="2779" y="1401">Sídliště Fifejdy - Hulváky</text></g>
<g id="route-109"><rect x="2669" y="1440" width="530.6" height="95" fill="#fff"/><rect class="nb" x="2665" y="1443" width="101" height="89" rx="11" fill="#d3e288"/><text class="num" x="2715" y="1507">109</text><text class="tt" x="2779" y="1472">Důl Heřmanice - Na Liščině -</text><text class="tt" x="2779" y="1494">Sídliště Muglinov - Most M. Sýkory -</text><text class="tt" x="2779" y="1516">Sídliště Fifejdy - Hulváky</text></g>
<g id="route-110"><rect x="2669" y="1555" width="530.6" height="95" fill="#fff"/><rect class="nb" x="2665" y="1558" width="101" height="89" rx="11" fill="#8ed8f8"/><text class="num" x="2715" y="1622">110</text><text class="tt" x="2779" y="1587">Hranečník - Sl.Ostrava kostel -</text><text class="tt" x="2779" y="1609">Nám. J. Gagarina - Husův sad -</text><text class="tt" x="2779" y="1631">Českobratrská - Náměstí Republiky</text></g>
<g id="route-111"><rect x="2669" y="1766.5" width="530.6" height="95" fill="#fff"/><rect x="2665" y="1769.5" width="101" height="89" rx="11" fill="#fff" stroke="#f9a461" stroke-width="5.5"/><text class="numn" x="2715" y="1833.5">111</text><text class="tt" x="2779" y="1798.5">Hlavní nádraží - Sad B. Němcové -</text><text class="tt" x="2779" y="1820.5">Nová radnice - Most M. Sýkory -</text><text class="tt" x="2779" y="1842.5">Nám. J. Gagarina - Michálkovice</text></g>
<g id="route-112"><rect x="2669" y="1881.5" width="530.6" height="95" fill="#fff"/><rect x="2665" y="1884.5" width="101" height="89" rx="11" fill="#fff" stroke="#b3b3da" stroke-width="5.5"/><text class="numn" x="2715" y="1948.5">112</text><text class="tt" x="2779" y="1913.5">Hlavní nádraží - Sad B. Němcové -</text><text class="tt" x="2779" y="1935.5">Sídliště Muglinov - Most M. Sýkory -</text><text class="tt" x="2779" y="1957.5">Hornopolní - Ahepjukova - Hulváky</text></g>
<g id="route-113"><rect x="2669" y="1996.5" width="530.6" height="95" fill="#fff"/><rect x="2665" y="1999.5" width="101" height="89" rx="11" fill="#fff" stroke="#f59ac1" stroke-width="5.5"/><text class="numn" x="2715" y="2063.5">113</text><text class="tt" x="2779" y="2028.5">Koblov - Bohumínská - Sad B. Němcové -</text><text class="tt" x="2779" y="2050.5">Most M. Sýkory - Nám. J. Gagarina -</text><text class="tt" x="2779" y="2072.5">Revírní br. pokladna - Důl Heřmanice</text></g>
</g>
</svg>
